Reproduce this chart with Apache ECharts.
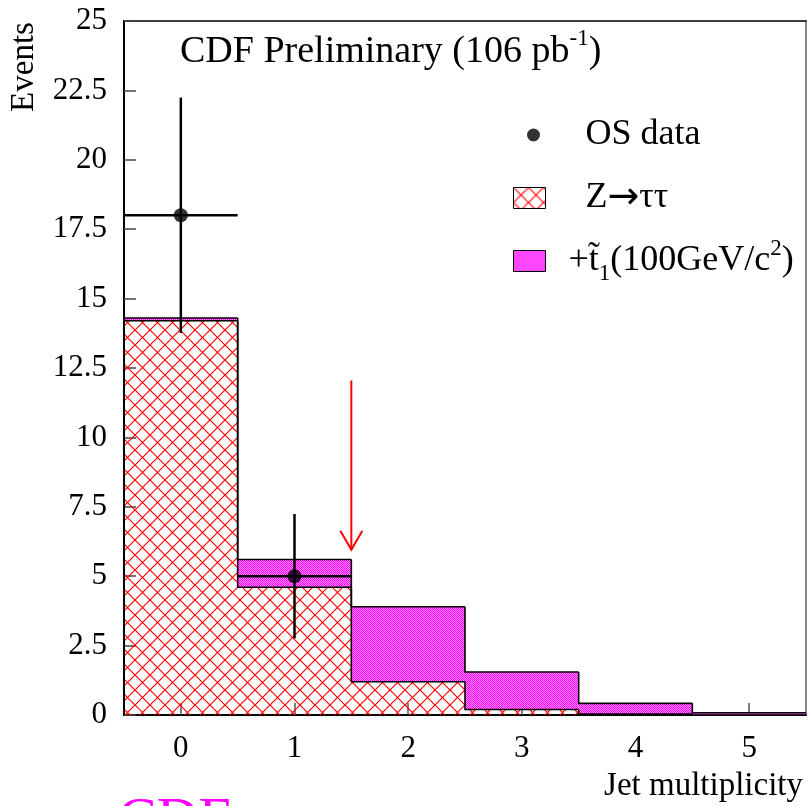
<!DOCTYPE html>
<html>
<head>
<meta charset="utf-8">
<script src="https://cdn.jsdelivr.net/npm/echarts@6/dist/echarts.min.js"></script>
<style>
  html, body { margin: 0; padding: 0; background: #fff; }
  #chart { width: 808px; height: 806px; }
</style>
</head>
<body>
<div id="chart"></div>
<script>
// values
const bins = [0, 1, 2, 3, 4, 5];
const binLabels = ['0', '1', '2', '3', '4', '5'];
const zTauTau = [14.2, 4.6, 1.2, 0.2, 0.03, 0];
const withStop = [14.3, 5.6, 3.9, 1.55, 0.42, 0.08];
const osBins = [0, 1];
const osData = [18, 5];
const osErr = [4.24, 2.24];
const cutArrow = [1.5, 12.05, 5.95]; // x, from, to

const FONT = "'Liberation Serif', 'Times New Roman', serif";

function makeHatch() {
  const c = document.createElement('canvas');
  c.width = 15; c.height = 15;
  const g = c.getContext('2d');
  g.strokeStyle = '#ff0000';
  g.lineWidth = 1.2;
  g.beginPath();
  g.moveTo(0, 0); g.lineTo(15, 15);
  g.moveTo(15, 0); g.lineTo(0, 15);
  g.stroke();
  return { image: c, repeat: 'repeat' };
}

function makeDots() {
  const c = document.createElement('canvas');
  c.width = 2; c.height = 2;
  const g = c.getContext('2d');
  g.fillStyle = '#ff00ff';
  g.fillRect(0, 0, 2, 2);
  g.fillStyle = '#ff8cff';
  g.fillRect(1, 0, 1, 1);
  g.fillRect(0, 1, 1, 1);
  return { image: c, repeat: 'repeat' };
}

const hatch = makeHatch();
const dots = makeDots();

function histItem(fill) {
  return function (params, api) {
    const x = api.value(0), lo = api.value(1), hi = api.value(2), prev = api.value(3);
    const a = api.coord([x - 0.5, hi]);
    const b = api.coord([x + 0.5, lo]);
    const c = api.coord([x - 0.5, prev]);
    return {
      type: 'group',
      children: [
        { type: 'rect', z2: 1,
          shape: { x: a[0], y: a[1], width: b[0] - a[0], height: b[1] - a[1] },
          style: { fill: fill, stroke: null } },
        { type: 'polyline', z2: 10,
          shape: { points: [c, [a[0], a[1]], [b[0], a[1]]] },
          style: { stroke: '#000', lineWidth: 1.6, fill: null } }
      ]
    };
  };
}

const zRows = bins.map((b, i) => [b, 0, zTauTau[i], i ? zTauTau[i - 1] : 0]);
const stopRows = bins.map((b, i) => [b, zTauTau[i], withStop[i], i ? withStop[i - 1] : 0]);
const osRows = osBins.map((b, i) => [b, osData[i], osErr[i]]);

const chart = echarts.init(document.getElementById('chart'));

chart.setOption({
  animation: false,
  backgroundColor: '#fff',
  textStyle: { fontFamily: FONT },
  title: {
    text: 'CDF Preliminary (106 pb{sup|-1})',
    left: 180,
    top: 27,
    padding: 0,
    textStyle: {
      fontFamily: FONT, fontSize: 38, fontWeight: 'normal', color: '#000', lineHeight: 50,
      rich: { sup: { fontFamily: FONT, fontSize: 23, color: '#000', verticalAlign: 'top' } }
    }
  },
  legend: {
    orient: 'vertical',
    left: 513,
    top: 111,
    padding: 0,
    itemWidth: 32,
    itemHeight: 21,
    itemGap: 15,
    selectedMode: false,
    itemStyle: { borderColor: '#000', borderWidth: 1 },
    data: [
      { name: 'OS data', icon: 'path://M0,0M32,21M13.5,10.5a6.5,6.5 0 1,0 13,0a6.5,6.5 0 1,0 -13,0', itemStyle: { borderWidth: 0 } },
      { name: 'Z→ττ', icon: 'rect' },
      { name: 'stop', icon: 'rect', textStyle: { padding: [0, 0, 0, 18] } }
    ],
    formatter: function (name) {
      if (name === 'stop') return '+t\u0303{sub|1}(100GeV/c{sup|2})';
      if (name === 'Z→ττ') return 'Z{arr|→}ττ';
      return name;
    },
    textStyle: {
      fontFamily: FONT, fontSize: 36, color: '#000', lineHeight: 48,
      padding: [0, 0, 0, 35],
      rich: {
        arr: { fontFamily: "'DejaVu Sans', sans-serif", fontSize: 38, color: '#000' },
        sub: { fontFamily: FONT, fontSize: 23, color: '#000', verticalAlign: 'bottom' },
        sup: { fontFamily: FONT, fontSize: 23, color: '#000', verticalAlign: 'top' }
      }
    }
  },
  grid: { left: 124, right: 2, top: 21, bottom: 91, containLabel: false },
  xAxis: [
    { type: 'value', min: -0.5, max: 5.5, show: false, axisLine: { onZero: false } },
    {
      type: 'category',
      data: binLabels,
      position: 'bottom',
      boundaryGap: true,
      axisLine: { show: true, onZero: false, lineStyle: { color: '#000', width: 2 } },
      axisTick: { show: true, inside: true, alignWithLabel: true, length: 12, lineStyle: { color: '#555', width: 1.5 } },
      axisLabel: { fontFamily: FONT, fontSize: 31, color: '#000', margin: 18 },
      splitLine: { show: false }
    },
    {
      type: 'category',
      data: binLabels,
      position: 'top',
      axisLine: { show: true, onZero: false, lineStyle: { color: '#000', width: 1.5 } },
      axisTick: { show: false },
      axisLabel: { show: false }
    }
  ],
  yAxis: [
    {
      type: 'value',
      min: 0,
      max: 25,
      interval: 2.5,
      position: 'left',
      axisLine: { show: true, onZero: false, lineStyle: { color: '#000', width: 2 } },
      axisTick: { show: true, inside: true, length: 12, lineStyle: { color: '#444', width: 1.5 } },
      axisLabel: { fontFamily: FONT, fontSize: 31, color: '#000', margin: 17 },
      splitLine: { show: false }
    },
    {
      type: 'value',
      min: 0,
      max: 25,
      position: 'right',
      axisLine: { show: true, onZero: false, lineStyle: { color: '#888', width: 2 } },
      axisTick: { show: false },
      axisLabel: { show: false },
      splitLine: { show: false }
    }
  ],
  graphic: [
    { type: 'text', x: 24, y: 67, rotation: Math.PI / 2,
      style: { text: 'Events', font: "33px 'Liberation Serif', serif", fill: '#000', align: 'center', verticalAlign: 'middle' } },
    { type: 'text', x: 803, y: 786,
      style: { text: 'Jet multiplicity', font: "33px 'Liberation Serif', serif", fill: '#000', align: 'right', verticalAlign: 'middle' } },
    { type: 'text', x: 118, y: 822,
      style: { text: 'CDF', font: "58px 'Liberation Serif', serif", fill: '#ff00ff', align: 'left', verticalAlign: 'middle' } }
  ],
  series: [
    {
      name: 'stop',
      type: 'custom',
      xAxisIndex: 0,
      yAxisIndex: 0,
      itemStyle: { color: dots },
      renderItem: histItem(dots),
      data: stopRows
    },
    {
      name: 'Z→ττ',
      type: 'custom',
      xAxisIndex: 0,
      yAxisIndex: 0,
      itemStyle: { color: hatch },
      renderItem: histItem(hatch),
      data: zRows
    },
    {
      name: 'cut',
      type: 'custom',
      xAxisIndex: 0,
      yAxisIndex: 0,
      z: 4,
      renderItem: function (params, api) {
        const top = api.coord([api.value(0), api.value(1)]);
        const tip = api.coord([api.value(0), api.value(2)]);
        return {
          type: 'group',
          children: [
            { type: 'line', shape: { x1: top[0], y1: top[1], x2: tip[0], y2: tip[1] }, style: { stroke: '#ff0000', lineWidth: 2 } },
            { type: 'polyline', shape: { points: [[tip[0] - 11, tip[1] - 19], tip, [tip[0] + 11, tip[1] - 19]] }, style: { stroke: '#ff0000', lineWidth: 2, fill: null } }
          ]
        };
      },
      data: [cutArrow]
    },
    {
      name: 'errors',
      type: 'custom',
      xAxisIndex: 0,
      yAxisIndex: 0,
      z: 5,
      renderItem: function (params, api) {
        const x = api.value(0), y = api.value(1), e = api.value(2);
        const t = api.coord([x, y + e]), b = api.coord([x, y - e]);
        const l = api.coord([x - 0.5, y]), r = api.coord([x + 0.5, y]);
        return {
          type: 'group',
          children: [
            { type: 'line', shape: { x1: t[0], y1: t[1], x2: b[0], y2: b[1] }, style: { stroke: '#000', lineWidth: 2.5 } },
            { type: 'line', shape: { x1: l[0], y1: l[1], x2: r[0], y2: r[1] }, style: { stroke: '#000', lineWidth: 2.5 } }
          ]
        };
      },
      data: osRows
    },
    {
      name: 'OS data',
      type: 'scatter',
      xAxisIndex: 0,
      yAxisIndex: 0,
      z: 6,
      symbol: 'circle',
      symbolSize: 14,
      itemStyle: { color: '#000' },
      data: osRows.map(r => [r[0], r[1]])
    }
  ]
});
</script>
</body>
</html>
